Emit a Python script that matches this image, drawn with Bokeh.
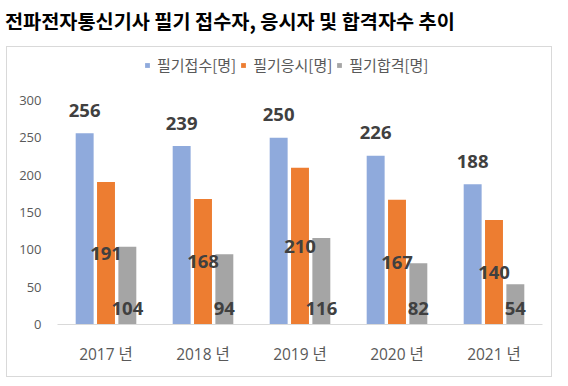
from bokeh.plotting import figure
from bokeh.layouts import column
from bokeh.models import (ColumnDataSource, FactorRange, FixedTicker, Legend,
                          LegendItem, Range1d, Div)
from bokeh.transform import dodge
from bokeh.core.properties import value
from bokeh.embed import file_html
from bokeh.resources import INLINE

years = ["2017 년", "2018 년", "2019 년", "2020 년", "2021 년"]
applied = [256, 239, 250, 226, 188]
taken = [191, 168, 210, 167, 140]
passed = [104, 94, 116, 82, 54]
series_names = ["필기접수[명]", "필기응시[명]", "필기합격[명]"]
y_ticks = [0, 50, 100, 150, 200, 250, 300]
title_text = "전파전자통신기사 필기 접수자, 응시자 및 합격자수 추이"

colors = ["#8FAADC", "#ED7D31", "#A5A5A5"]
LABEL_COLOR = "#404040"
AXIS_TEXT = "#595959"
KR = "Noto Sans CJK KR"
NUM = "Open Sans"
MIX = "Open Sans, Noto Sans CJK KR"

src = ColumnDataSource(dict(
    year=years,
    applied=applied, taken=taken, passed=passed,
    taken_mid=[v / 2 for v in taken],
    zero=[0] * len(years),
    applied_s=[str(v) for v in applied],
    taken_s=[str(v) for v in taken],
    passed_s=[str(v) for v in passed],
))

W, H = 546, 331
p = figure(x_range=FactorRange(*years), y_range=Range1d(0, 368.3), width=W, height=H,
           output_backend="svg", toolbar_location=None,
           min_border_left=50, min_border_right=11, min_border_top=2, min_border_bottom=54)
p.margin = (0, 0, 0, 6)
p.styles = {"border": "1px solid #D9D9D9"}
p.outline_line_color = None
p.xgrid.visible = False
p.ygrid.visible = False

off = 0.22
bw = 0.185
r1 = p.vbar(x=dodge("year", -off, range=p.x_range), top="applied", width=bw, source=src,
            fill_color=colors[0], line_color=None)
r2 = p.vbar(x=dodge("year", 0, range=p.x_range), top="taken", width=bw, source=src,
            fill_color=colors[1], line_color=None)
r3 = p.vbar(x=dodge("year", off, range=p.x_range), top="passed", width=bw, source=src,
            fill_color=colors[2], line_color=None)

common = dict(text_font=value(NUM), text_font_style="bold", text_font_size="18.5px",
              text_color=LABEL_COLOR, text_align="center", text_baseline="middle", source=src)
p.text(x=dodge("year", -off, range=p.x_range), y="applied", text="applied_s", y_offset=-23, **common)
p.text(x=dodge("year", 0, range=p.x_range), y="taken_mid", text="taken_s", **common)
p.text(x=dodge("year", off, range=p.x_range), y="zero", text="passed_s", y_offset=-16, **common)

# axes
p.yaxis.ticker = FixedTicker(ticks=y_ticks)
p.yaxis.axis_line_color = None
p.yaxis.major_tick_line_color = None
p.yaxis.minor_tick_line_color = None
p.yaxis.major_tick_out = 0
p.yaxis.major_tick_in = 0
p.yaxis.major_label_standoff = 16
p.yaxis.major_label_text_font = NUM
p.yaxis.major_label_text_font_size = "13px"
p.yaxis.major_label_text_color = AXIS_TEXT

p.xaxis.axis_line_color = "#D9D9D9"
p.xaxis.axis_line_width = 1
p.xaxis.major_tick_line_color = None
p.xaxis.minor_tick_line_color = None
p.xaxis.major_tick_out = 0
p.xaxis.major_tick_in = 0
p.xaxis.major_label_standoff = 18
p.xaxis.major_label_text_font = MIX
p.xaxis.major_label_text_font_size = "15.5px"
p.xaxis.major_label_text_color = AXIS_TEXT

# legend
legend = Legend(items=[LegendItem(label=series_names[0], renderers=[r1]),
                       LegendItem(label=series_names[1], renderers=[r2]),
                       LegendItem(label=series_names[2], renderers=[r3])],
                orientation="horizontal", location=(87, 249),
                glyph_width=6, glyph_height=6, label_standoff=7, spacing=4, padding=0,
                margin=0, border_line_color=None, background_fill_alpha=0,
                label_text_font=KR, label_text_font_size="15px", label_text_color=AXIS_TEXT)
p.add_layout(legend, "center")

title = Div(text=title_text, width=560, height=46, margin=(0, 0, 0, 0),
            styles={"font-family": "'Noto Sans CJK KR'", "font-size": "19.7px",
                    "font-weight": "bold", "color": "#000000",
                    "padding-left": "5px", "padding-top": "7px", "line-height": "28px"})

layout = column(title, p, spacing=0)
open("out.html", "w").write(file_html(layout, INLINE))
